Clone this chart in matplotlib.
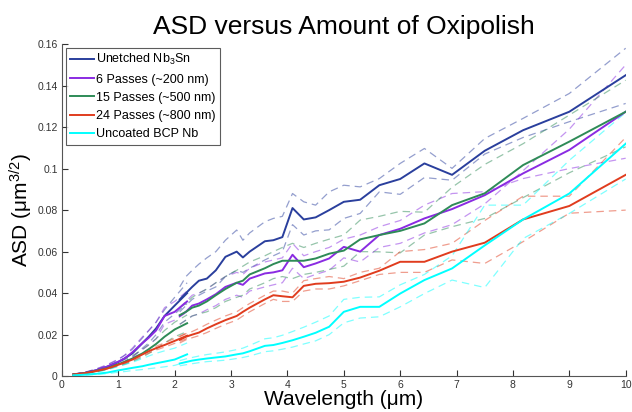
import matplotlib
matplotlib.use('Agg')
import matplotlib.pyplot as plt

plt.rcParams['font.family'] = ['Liberation Sans', 'DejaVu Sans']
plt.rcParams['mathtext.fontset'] = 'custom'
plt.rcParams['mathtext.rm'] = 'Liberation Sans'
plt.rcParams['mathtext.it'] = 'Liberation Sans'

# short scan wavelengths (um) and long scan wavelengths (um)
X_SHORT = [0.2, 0.4, 0.6, 0.8, 1.0, 1.11, 1.25, 1.43, 1.54, 1.67, 1.82, 2.0, 2.22]
X_LONG = [2.09, 2.2, 2.31, 2.43, 2.57, 2.73, 2.9, 3.1, 3.21, 3.33, 3.6, 3.75, 3.91,
          4.09, 4.29, 4.5, 4.74, 5.0, 5.29, 5.63, 6.0, 6.43, 6.92, 7.5, 8.18, 9.0, 10.0]

LABELS = ['Unetched Nb$_3$Sn', '6 Passes (~200 nm)', '15 Passes (~500 nm)',
          '24 Passes (~800 nm)', 'Uncoated BCP Nb']
COLORS = ['#2a3f9d', '#8a2be2', '#2e8b57', '#e03c1e', '#00ffff']

# Unetched Nb3Sn
unetched_short = [0.0008, 0.0015, 0.0028, 0.0045, 0.0068, 0.0085, 0.011, 0.016, 0.019, 0.023, 0.029, 0.034, 0.040]
unetched_short_a = [0.001, 0.0018, 0.0033, 0.0053, 0.008, 0.010, 0.013, 0.0185, 0.022, 0.026, 0.032, 0.038, 0.045]
unetched_short_b = [0.0006, 0.0012, 0.0023, 0.0038, 0.0056, 0.007, 0.009, 0.0135, 0.016, 0.020, 0.026, 0.030, 0.035]
unetched_long = [0.037, 0.040, 0.043, 0.046, 0.047, 0.051, 0.0575, 0.060, 0.0572, 0.060, 0.065, 0.0655, 0.067,
                 0.081, 0.0755, 0.0765, 0.080, 0.084, 0.085, 0.092, 0.095, 0.1025, 0.097, 0.1086, 0.1185, 0.1274, 0.145]
unetched_long_a = [0.043, 0.048, 0.051, 0.054, 0.057, 0.060, 0.0655, 0.0704, 0.0655, 0.069, 0.0744, 0.076, 0.077,
                   0.088, 0.084, 0.0824, 0.0888, 0.092, 0.0912, 0.0952, 0.1025, 0.1097, 0.1001, 0.1145, 0.1242, 0.1362, 0.158]
unetched_long_b = [0.031, 0.034, 0.037, 0.039, 0.041, 0.043, 0.048, 0.051, 0.050, 0.052, 0.056, 0.058, 0.060,
                   0.073, 0.068, 0.070, 0.0705, 0.076, 0.0784, 0.0888, 0.0876, 0.0957, 0.0944, 0.107, 0.115, 0.1226, 0.1314]

# 6 passes
p6_short = [0.0008, 0.0015, 0.0028, 0.0046, 0.007, 0.0085, 0.0115, 0.016, 0.0185, 0.022, 0.029, 0.031, 0.036]
p6_short_a = [0.001, 0.0018, 0.0034, 0.0055, 0.0082, 0.010, 0.0135, 0.019, 0.022, 0.026, 0.033, 0.036, 0.041]
p6_short_b = [0.0006, 0.0012, 0.0023, 0.0038, 0.0058, 0.007, 0.0095, 0.013, 0.015, 0.018, 0.025, 0.027, 0.031]
p6_long = [0.029, 0.031, 0.034, 0.035, 0.037, 0.0395, 0.043, 0.045, 0.044, 0.047, 0.0495, 0.050, 0.051,
           0.0585, 0.0525, 0.0543, 0.0567, 0.0623, 0.060, 0.068, 0.071, 0.076, 0.0805, 0.0872, 0.0977, 0.109, 0.1274]
p6_long_a = [0.033, 0.036, 0.039, 0.040, 0.042, 0.045, 0.048, 0.050, 0.049, 0.052, 0.055, 0.056, 0.057,
             0.064, 0.058, 0.060, 0.062, 0.066, 0.068, 0.072, 0.075, 0.0824, 0.088, 0.0889, 0.0952, 0.100, 0.105]
p6_long_b = [0.025, 0.027, 0.029, 0.030, 0.032, 0.034, 0.037, 0.039, 0.038, 0.041, 0.043, 0.044, 0.045,
             0.052, 0.047, 0.049, 0.051, 0.057, 0.055, 0.062, 0.064, 0.069, 0.073, 0.083, 0.099, 0.119, 0.150]

# 15 passes
p15_short = [0.0008, 0.0014, 0.0025, 0.0038, 0.0058, 0.0068, 0.0085, 0.011, 0.013, 0.0155, 0.019, 0.0225, 0.0255]
p15_short_a = [0.0009, 0.0016, 0.0029, 0.0044, 0.0067, 0.0079, 0.0099, 0.0128, 0.0151, 0.018, 0.022, 0.026, 0.0295]
p15_short_b = [0.0007, 0.0012, 0.0021, 0.0032, 0.0049, 0.0057, 0.0071, 0.0092, 0.0109, 0.013, 0.016, 0.019, 0.0215]
p15_long = [0.0294, 0.031, 0.033, 0.034, 0.036, 0.039, 0.042, 0.045, 0.046, 0.049, 0.052, 0.054, 0.0556,
            0.0556, 0.0556, 0.0567, 0.059, 0.0605, 0.0659, 0.068, 0.070, 0.0736, 0.0824, 0.0881, 0.1017, 0.113, 0.1274]
p15_long_a = [0.033, 0.035, 0.038, 0.040, 0.042, 0.045, 0.048, 0.051, 0.053, 0.055, 0.058, 0.060, 0.062,
              0.064, 0.062, 0.064, 0.066, 0.068, 0.0752, 0.077, 0.0794, 0.079, 0.091, 0.102, 0.112, 0.1258, 0.1426]
p15_long_b = [0.025, 0.027, 0.029, 0.030, 0.031, 0.033, 0.036, 0.038, 0.039, 0.042, 0.045, 0.047, 0.048,
              0.047, 0.049, 0.050, 0.0514, 0.053, 0.060, 0.0599, 0.0594, 0.068, 0.072, 0.076, 0.086, 0.098, 0.1105]

# 24 passes
p24_short = [0.0008, 0.0014, 0.0024, 0.0036, 0.0055, 0.0065, 0.008, 0.0105, 0.012, 0.0135, 0.015, 0.017, 0.0195]
p24_short_a = [0.0009, 0.0015, 0.0026, 0.0039, 0.0059, 0.0070, 0.0086, 0.0112, 0.0128, 0.0144, 0.016, 0.0182, 0.0208]
p24_short_b = [0.0007, 0.0013, 0.0022, 0.0033, 0.0051, 0.0060, 0.0074, 0.0098, 0.0112, 0.0126, 0.014, 0.0158, 0.0182]
p24_long = [0.0175, 0.019, 0.020, 0.021, 0.023, 0.025, 0.027, 0.029, 0.031, 0.033, 0.037, 0.039, 0.0385,
            0.038, 0.0435, 0.0445, 0.0448, 0.0455, 0.0475, 0.0508, 0.0551, 0.0551, 0.060, 0.0643, 0.0755, 0.082, 0.097]
p24_long_a = [0.019, 0.0205, 0.0215, 0.023, 0.025, 0.027, 0.029, 0.031, 0.033, 0.035, 0.039, 0.041, 0.041,
              0.040, 0.046, 0.047, 0.048, 0.047, 0.050, 0.052, 0.060, 0.061, 0.064, 0.075, 0.0867, 0.0867, 0.115]
p24_long_b = [0.016, 0.0175, 0.0185, 0.0195, 0.021, 0.023, 0.025, 0.027, 0.029, 0.031, 0.035, 0.037, 0.036,
              0.036, 0.041, 0.042, 0.042, 0.0435, 0.046, 0.049, 0.050, 0.050, 0.056, 0.0543, 0.0648, 0.0785, 0.080]

# uncoated BCP Nb
nb_short = [0.0004, 0.0007, 0.0011, 0.0017, 0.0028, 0.0033, 0.004, 0.0048, 0.0055, 0.0062, 0.007, 0.008, 0.0105]
nb_short_a = [0.0005, 0.001, 0.0018, 0.003, 0.0047, 0.0055, 0.0067, 0.0085, 0.0097, 0.011, 0.0122, 0.0135, 0.016]
nb_short_b = [0.0003, 0.0005, 0.0008, 0.0012, 0.0019, 0.0022, 0.0027, 0.0032, 0.0036, 0.004, 0.0045, 0.0052, 0.007]
nb_long = [0.0061, 0.0068, 0.0075, 0.008, 0.0085, 0.009, 0.0095, 0.0105, 0.011, 0.012, 0.0146, 0.015, 0.016,
           0.0173, 0.019, 0.0209, 0.0238, 0.031, 0.0334, 0.0334, 0.0398, 0.0463, 0.0519, 0.063, 0.0755, 0.088, 0.112]
nb_long_a = [0.0075, 0.0083, 0.009, 0.0097, 0.0104, 0.011, 0.0117, 0.0128, 0.0135, 0.0148, 0.018, 0.0185, 0.0197,
             0.0215, 0.0236, 0.026, 0.029, 0.037, 0.038, 0.0382, 0.044, 0.049, 0.058, 0.0824, 0.0824, 0.104, 0.127]
nb_long_b = [0.005, 0.0055, 0.006, 0.0065, 0.007, 0.0073, 0.0077, 0.0085, 0.009, 0.0097, 0.0118, 0.0122, 0.013,
             0.014, 0.0155, 0.017, 0.020, 0.0257, 0.028, 0.0286, 0.0334, 0.0398, 0.0463, 0.0427, 0.0663, 0.0784, 0.095]

SERIES = [
    (unetched_short, unetched_short_a, unetched_short_b, unetched_long, unetched_long_a, unetched_long_b),
    (p6_short, p6_short_a, p6_short_b, p6_long, p6_long_a, p6_long_b),
    (p15_short, p15_short_a, p15_short_b, p15_long, p15_long_a, p15_long_b),
    (p24_short, p24_short_a, p24_short_b, p24_long, p24_long_a, p24_long_b),
    (nb_short, nb_short_a, nb_short_b, nb_long, nb_long_a, nb_long_b),
]


def main():
    fig = plt.figure(figsize=(6.32, 4.12), dpi=100)
    ax = fig.add_axes([0.098, 0.087, 0.892, 0.806])

    handles = []
    # dashed bands first, then solid means on top
    for color, (s, sa, sb, l, la, lb) in zip(COLORS, SERIES):
        for xs, ys in ((X_SHORT, sa), (X_SHORT, sb), (X_LONG, la), (X_LONG, lb)):
            ax.plot(xs, ys, color=color, lw=0.9, ls=(0, (6, 4)), alpha=0.5)
    for color, label, (s, sa, sb, l, la, lb) in zip(COLORS, LABELS, SERIES):
        h, = ax.plot(X_SHORT, s, color=color, lw=1.4, label=label)
        ax.plot(X_LONG, l, color=color, lw=1.4)
        handles.append(h)

    ax.set_xlim(0, 10)
    ax.set_ylim(0, 0.16)
    ax.set_xticks(range(0, 11))
    ax.set_yticks([0, 0.02, 0.04, 0.06, 0.08, 0.1, 0.12, 0.14, 0.16])
    ax.set_yticklabels(['0', '0.02', '0.04', '0.06', '0.08', '0.1', '0.12', '0.14', '0.16'])
    ax.tick_params(direction='in', length=4, width=0.8, labelsize=7.5, colors='#333', pad=3)
    for side in ('top', 'right'):
        ax.spines[side].set_visible(False)
    for side in ('left', 'bottom'):
        ax.spines[side].set_color('#555')
        ax.spines[side].set_linewidth(0.8)

    ax.set_title('ASD versus Amount of Oxipolish', fontsize=19, pad=7)
    ax.set_xlabel('Wavelength (\u03bcm)', fontsize=15, labelpad=0)
    ax.set_ylabel('ASD (\u03bcm$^{3/2}$)', fontsize=15, labelpad=2)

    leg = ax.legend(handles=handles, loc='upper left', fontsize=9, frameon=True, fancybox=False,
                    handlelength=1.9, handletextpad=0.2, borderpad=0.35, labelspacing=0.5,
                    borderaxespad=0.3)
    leg.get_frame().set_edgecolor('#333')
    leg.get_frame().set_linewidth(0.8)

    fig.savefig('out.png', dpi=100)


if __name__ == '__main__':
    main()
